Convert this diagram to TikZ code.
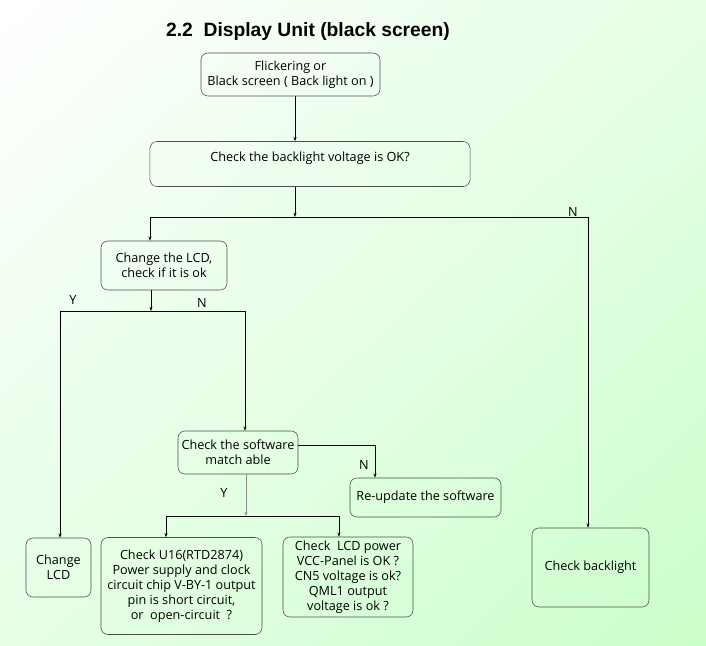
\documentclass[tikz,border=0pt]{standalone}
\usepackage{fontspec}
\setmainfont{Open Sans}
\newfontfamily\titlefont{Liberation Sans}
\usetikzlibrary{arrows.meta,shadings}
\definecolor{bgmid}{RGB}{229,255,229}
\definecolor{bglr}{RGB}{203,255,203}
\tikzset{
  box/.style={draw=black!70,rounded corners=5pt,align=center,inner sep=1pt,
    font=\fontsize{9}{10.7}\selectfont},
  wire/.style={draw=black,line width=0.5pt},
  flow/.style={wire,-{Stealth[length=3pt,width=2.2pt]}},
  tag/.style={font=\fontsize{9}{10.7}\selectfont,inner sep=0pt}
}
\begin{document}
\begin{tikzpicture}[x=0.025cm,y=-0.025cm]
  \useasboundingbox (0,0) rectangle (706,646);
  \shade[upper left=white,upper right=bgmid,lower left=bgmid,lower right=bglr]
    (0,0) rectangle (706,646);
  \node[font=\titlefont\bfseries\fontsize{13.7}{16}\selectfont] (title) at (308,32)
    {2.2\ \ Display Unit (black screen)};
  \node[box,minimum width=4.475cm,minimum height=1.075cm] (flick) at (290.5,74.5)
    {Flickering or\\Black screen ( Back light on )};
  \node[box,minimum width=8cm,minimum height=1.125cm] (volt) at (310,164)
    {Check the backlight voltage is OK?\\~};
  \node[box,minimum width=3.15cm,minimum height=1.225cm] (lcdchk) at (164,265.5)
    {Change the LCD,\\ check if it is ok};
  \node[box,minimum width=3cm,minimum height=1.075cm] (sw) at (238,452.5)
    {Check the software\\match able};
  \node[box,minimum width=3.775cm,minimum height=0.975cm] (upd) at (425.5,497.5)
    {Re-update the software};
  \node[box,minimum width=1.625cm,minimum height=1.475cm] (chg) at (58.5,567.5)
    {Change\\LCD};
  \node[box,minimum width=4.025cm,minimum height=2.425cm] (u16) at (181.5,586)
    {Check U16(RTD2874)\\Power supply and clock\\circuit chip V-BY-1 output\\pin is short circuit,\\or\ \ open-circuit\ \ ?};
  \node[box,minimum width=3.25cm,minimum height=2cm] (pwr) at (348,577)
    {Check\ \ LCD power\\VCC-Panel is OK ?\\CN5 voltage is ok?\\QML1 output\\voltage is ok ?};
  \node[box,minimum width=2.925cm,minimum height=1.975cm] (backlt) at (590.5,567.5)
    {Check backlight};

  \coordinate (j1) at (295,217);
  \coordinate (j1l) at (150,217);
  \coordinate (j1r) at (588,217);
  \coordinate (j2) at (151,311);
  \coordinate (j2l) at (60,311);
  \coordinate (j2r) at (245,311);
  \coordinate (j3) at (375,445);
  \coordinate (j4) at (246,516);
  \coordinate (j4l) at (166,516);
  \coordinate (j4r) at (339,516);

  \draw[flow] (flick.south -| j1) -- (volt.north -| j1);
  \draw[flow] (volt.south -| j1) -- (j1);
  \draw[wire] (j1l) -- (j1r);
  \draw[flow] (j1l) -- (lcdchk.north -| j1l);
  \draw[flow] (j1r) -- (backlt.north -| j1r);
  \node[tag] (n1) at (573,212) {N};

  \draw[flow] (lcdchk.south -| j2) -- (j2);
  \draw[wire] (j2l) -- (j2r);
  \draw[flow] (j2l) -- (chg.north -| j2l);
  \draw[flow] (j2r) -- (sw.north -| j2r);
  \node[tag] (y1) at (73,300) {Y};
  \node[tag] (n2) at (202,303) {N};

  \draw[flow] (sw.east |- j3) -| (upd.north -| j3);
  \node[tag] (n3) at (364,465) {N};

  \draw[flow,draw=black!45] (sw.south -| j4) -- (j4);
  \draw[wire] (j4l) -- (j4r);
  \draw[flow] (j4l) -- (u16.north -| j4l);
  \draw[flow] (j4r) -- (pwr.north -| j4r);
  \node[tag] (y2) at (224,493) {Y};
\end{tikzpicture}
\end{document}
